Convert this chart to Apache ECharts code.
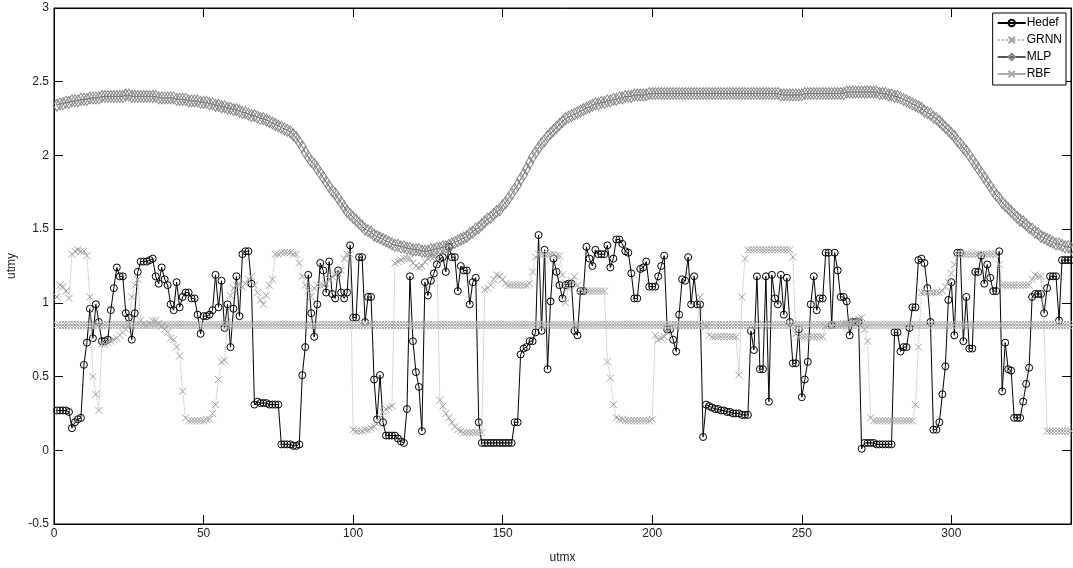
<!DOCTYPE html>
<html>
<head>
<meta charset="utf-8">
<script src="https://cdn.jsdelivr.net/npm/echarts@6/dist/echarts.min.js"></script>
<style>
html,body{margin:0;padding:0;background:#fff;}
#c{width:1073px;height:568px;}
</style>
</head>
<body>
<div id="c"></div>
<script>
// x index runs 1..340
const seriesNames = ['Hedef', 'GRNN', 'MLP', 'RBF'];
const xTicks = [0, 50, 100, 150, 200, 250, 300];
const yTicks = [-0.5, 0, 0.5, 1, 1.5, 2, 2.5, 3];

const hedef = [
0.27,0.27,0.27,0.27,0.26,0.15,0.19,0.21,0.22,0.58,
0.73,0.96,0.76,0.99,0.87,0.74,0.74,0.75,0.95,1.10,
1.24,1.18,1.18,0.93,0.90,0.75,0.93,1.21,1.28,1.28,
1.28,1.29,1.30,1.18,1.13,1.24,1.16,1.12,0.99,0.95,
1.14,0.97,1.04,1.07,1.07,1.03,1.03,0.92,0.79,0.91,
0.91,0.92,0.95,1.19,0.97,1.15,0.83,0.99,0.70,0.96,
1.18,0.91,1.33,1.35,1.35,1.13,0.31,0.33,0.32,0.32,
0.32,0.31,0.31,0.31,0.31,0.04,0.04,0.04,0.04,0.03,
0.03,0.04,0.51,0.70,1.19,0.93,0.77,0.99,1.27,1.22,
1.07,1.28,1.06,1.03,1.22,1.07,1.03,1.07,1.39,0.90,
0.90,1.31,1.31,0.87,1.04,1.04,0.48,0.21,0.51,0.19,
0.10,0.10,0.10,0.10,0.08,0.06,0.05,0.28,1.18,0.74,
0.53,0.43,0.13,1.14,1.05,1.15,1.20,1.26,1.30,1.31,
1.21,1.38,1.31,1.31,1.08,1.25,1.22,1.22,0.99,1.14,
1.17,0.19,0.05,0.05,0.05,0.05,0.05,0.05,0.05,0.05,
0.05,0.05,0.05,0.19,0.19,0.65,0.69,0.70,0.74,0.74,
0.80,1.46,0.81,1.36,0.55,1.01,1.30,1.21,1.12,1.03,
1.12,1.13,1.13,0.81,0.78,1.08,1.08,1.38,1.30,1.25,
1.36,1.33,1.33,1.33,1.39,1.24,1.30,1.43,1.43,1.40,
1.35,1.34,1.20,1.03,1.03,1.23,1.24,1.28,1.11,1.11,
1.11,1.18,1.25,1.32,0.82,0.82,0.75,0.67,0.92,1.16,
1.15,1.31,0.99,1.18,0.99,0.99,0.09,0.31,0.30,0.29,
0.28,0.28,0.27,0.27,0.26,0.26,0.25,0.25,0.25,0.24,
0.24,0.24,0.81,0.68,1.18,0.55,0.55,1.18,0.33,1.19,
1.03,0.99,1.19,0.92,1.17,0.87,0.59,0.59,0.82,0.36,
0.48,0.60,0.99,1.18,0.95,1.03,1.03,1.34,1.34,0.85,
1.34,1.22,1.04,1.04,1.01,0.78,0.87,0.87,0.87,0.01,
0.05,0.05,0.05,0.05,0.04,0.04,0.04,0.04,0.04,0.04,
0.80,0.80,0.67,0.70,0.70,0.83,0.97,0.97,1.29,1.30,
1.27,1.10,0.87,0.14,0.14,0.19,0.38,0.57,1.02,1.14,
0.78,1.34,1.34,0.74,1.04,0.69,0.69,1.21,1.21,1.32,
1.13,1.26,1.17,1.08,1.08,1.35,0.40,0.73,0.55,0.54,
0.22,0.22,0.22,0.33,0.45,0.56,1.04,1.06,1.06,1.06,
0.93,1.10,1.18,1.18,1.18,0.88,1.29,1.29,1.29,1.29
];

const grnn = [
1.04,1.12,1.11,1.08,1.03,1.33,1.35,1.36,1.35,1.35,
1.32,1.04,0.50,0.38,0.27,0.72,0.72,0.73,0.74,0.75,
0.76,0.78,0.80,0.82,0.85,1.04,1.12,1.16,0.88,0.85,
0.85,0.86,0.88,0.88,0.86,0.84,0.82,0.80,0.76,0.75,
0.70,0.64,0.40,0.22,0.20,0.20,0.20,0.20,0.20,0.20,
0.21,0.21,0.25,0.31,0.48,0.60,0.61,0.87,1.05,1.10,
1.12,1.12,1.11,1.13,1.16,1.18,1.12,1.07,1.02,0.99,
1.05,1.12,1.16,1.33,1.33,1.34,1.34,1.34,1.34,1.33,
1.33,1.27,1.18,1.12,1.08,1.04,1.10,1.12,1.12,1.12,
1.13,1.16,1.18,1.19,1.20,1.22,1.30,1.33,1.33,0.14,
0.13,0.13,0.13,0.14,0.14,0.15,0.16,0.18,0.22,0.26,
0.28,0.29,0.30,1.27,1.28,1.29,1.30,1.30,1.30,1.27,
1.25,1.24,1.25,1.28,1.30,1.31,1.31,1.30,0.34,0.30,
0.25,0.22,0.19,0.16,0.14,0.13,0.12,0.12,0.12,0.12,
0.12,0.12,0.12,1.09,1.10,1.12,1.16,1.19,1.18,1.16,
1.13,1.12,1.12,1.12,1.12,1.12,1.12,1.12,1.13,1.21,
1.31,1.33,1.33,1.33,1.33,1.33,1.33,1.32,1.32,1.19,
1.00,1.10,1.15,1.18,1.12,1.09,1.08,1.08,1.08,1.08,
1.08,1.08,1.08,1.08,0.60,0.49,0.31,0.22,0.21,0.21,
0.20,0.20,0.20,0.20,0.20,0.20,0.20,0.20,0.20,0.21,
0.78,0.75,0.76,0.77,0.80,0.85,0.85,0.85,0.85,0.85,
0.85,0.85,0.85,0.85,0.85,1.04,0.85,0.84,0.78,0.77,
0.77,0.77,0.77,0.77,0.77,0.77,0.77,0.77,0.51,1.04,
1.30,1.36,1.36,1.36,1.36,1.36,1.36,1.36,1.36,1.36,
1.36,1.36,1.36,1.36,1.36,1.36,1.31,0.79,0.77,0.77,
0.77,0.77,0.77,0.77,0.77,0.77,0.77,0.84,0.85,0.85,
0.85,0.85,0.85,0.86,0.86,0.86,0.87,0.88,0.89,0.90,
0.82,0.74,0.22,0.20,0.20,0.20,0.20,0.20,0.20,0.20,
0.20,0.20,0.20,0.20,0.20,0.20,0.20,0.31,0.70,1.07,
1.07,1.07,1.07,1.07,1.07,1.07,1.08,1.11,1.14,1.20,
1.26,1.33,1.33,1.33,1.33,1.33,1.33,1.33,1.33,1.33,
1.33,1.33,1.33,1.33,1.33,1.26,1.12,1.12,1.12,1.12,
1.12,1.12,1.12,1.12,1.12,1.12,1.16,1.19,1.18,1.18,
0.85,0.13,0.13,0.13,0.13,0.13,0.13,0.13,0.13,0.13
];

const mlp = [
2.34,2.35,2.35,2.36,2.36,2.37,2.37,2.37,2.38,2.38,
2.38,2.39,2.39,2.39,2.39,2.40,2.40,2.40,2.40,2.40,
2.40,2.40,2.40,2.41,2.41,2.40,2.40,2.40,2.40,2.40,
2.40,2.40,2.40,2.40,2.39,2.39,2.39,2.39,2.39,2.39,
2.38,2.38,2.38,2.38,2.37,2.37,2.37,2.37,2.36,2.36,
2.36,2.35,2.35,2.34,2.34,2.33,2.33,2.32,2.32,2.31,
2.31,2.30,2.29,2.29,2.28,2.27,2.27,2.26,2.25,2.25,
2.24,2.23,2.22,2.21,2.20,2.19,2.18,2.17,2.16,2.14,
2.12,2.09,2.06,2.02,1.99,1.96,1.94,1.91,1.88,1.85,
1.82,1.79,1.76,1.74,1.71,1.68,1.65,1.62,1.60,1.58,
1.56,1.54,1.52,1.50,1.49,1.48,1.46,1.45,1.44,1.43,
1.42,1.41,1.40,1.39,1.39,1.38,1.38,1.37,1.37,1.36,
1.36,1.36,1.35,1.35,1.35,1.36,1.36,1.37,1.37,1.38,
1.38,1.39,1.40,1.41,1.42,1.43,1.44,1.45,1.47,1.48,
1.50,1.51,1.53,1.55,1.57,1.58,1.60,1.62,1.63,1.66,
1.68,1.71,1.74,1.77,1.80,1.84,1.87,1.91,1.95,1.99,
2.02,2.05,2.08,2.10,2.13,2.15,2.17,2.19,2.21,2.23,
2.25,2.26,2.27,2.28,2.29,2.30,2.31,2.32,2.33,2.34,
2.35,2.35,2.36,2.36,2.37,2.37,2.38,2.38,2.39,2.39,
2.40,2.40,2.40,2.41,2.41,2.41,2.41,2.41,2.42,2.42,
2.42,2.42,2.42,2.42,2.42,2.42,2.42,2.42,2.42,2.42,
2.42,2.42,2.42,2.42,2.42,2.42,2.42,2.42,2.42,2.42,
2.42,2.42,2.42,2.42,2.42,2.42,2.42,2.42,2.42,2.42,
2.42,2.42,2.42,2.42,2.42,2.42,2.42,2.42,2.42,2.42,
2.42,2.42,2.41,2.41,2.41,2.41,2.41,2.41,2.41,2.41,
2.42,2.42,2.42,2.42,2.42,2.42,2.42,2.42,2.42,2.42,
2.42,2.42,2.42,2.42,2.43,2.43,2.43,2.43,2.43,2.43,
2.43,2.43,2.43,2.43,2.43,2.42,2.42,2.42,2.41,2.41,
2.40,2.40,2.39,2.38,2.37,2.36,2.35,2.34,2.33,2.32,
2.30,2.29,2.28,2.26,2.25,2.23,2.21,2.19,2.17,2.15,
2.13,2.10,2.08,2.05,2.03,2.00,1.97,1.94,1.91,1.88,
1.85,1.82,1.79,1.76,1.73,1.71,1.68,1.66,1.64,1.62,
1.60,1.58,1.56,1.55,1.53,1.51,1.50,1.48,1.47,1.45,
1.44,1.43,1.42,1.41,1.40,1.40,1.39,1.38,1.38,1.37
];

const rbf = [
0.85,0.85,0.85,0.85,0.85,0.85,0.85,0.85,0.85,0.85,
0.85,0.85,0.85,0.85,0.85,0.85,0.85,0.85,0.85,0.85,
0.85,0.85,0.85,0.85,0.85,0.85,0.85,0.85,0.85,0.85,
0.85,0.85,0.85,0.85,0.85,0.85,0.85,0.85,0.85,0.85,
0.85,0.85,0.85,0.85,0.85,0.85,0.85,0.85,0.85,0.85,
0.85,0.85,0.85,0.85,0.85,0.85,0.85,0.85,0.85,0.85,
0.85,0.85,0.85,0.85,0.85,0.85,0.85,0.85,0.85,0.85,
0.85,0.85,0.85,0.85,0.85,0.85,0.85,0.85,0.85,0.85,
0.85,0.85,0.85,0.85,0.85,0.85,0.85,0.85,0.85,0.85,
0.85,0.85,0.85,0.85,0.85,0.85,0.85,0.85,0.85,0.85,
0.85,0.85,0.85,0.85,0.85,0.85,0.85,0.85,0.85,0.85,
0.85,0.85,0.85,0.85,0.85,0.85,0.85,0.85,0.85,0.85,
0.85,0.85,0.85,0.85,0.85,0.85,0.85,0.85,0.85,0.85,
0.85,0.85,0.85,0.85,0.85,0.85,0.85,0.85,0.85,0.85,
0.85,0.85,0.85,0.85,0.85,0.85,0.85,0.85,0.85,0.85,
0.85,0.85,0.85,0.85,0.85,0.85,0.85,0.85,0.85,0.85,
0.85,0.85,0.85,0.85,0.85,0.85,0.85,0.85,0.85,0.85,
0.85,0.85,0.85,0.85,0.85,0.85,0.85,0.85,0.85,0.85,
0.85,0.85,0.85,0.85,0.85,0.85,0.85,0.85,0.85,0.85,
0.85,0.85,0.85,0.85,0.85,0.85,0.85,0.85,0.85,0.85,
0.85,0.85,0.85,0.85,0.85,0.85,0.85,0.85,0.85,0.85,
0.85,0.85,0.85,0.85,0.85,0.85,0.85,0.85,0.85,0.85,
0.85,0.85,0.85,0.85,0.85,0.85,0.85,0.85,0.85,0.85,
0.85,0.85,0.85,0.85,0.85,0.85,0.85,0.85,0.85,0.85,
0.85,0.85,0.85,0.85,0.85,0.85,0.85,0.85,0.85,0.85,
0.85,0.85,0.85,0.85,0.85,0.85,0.85,0.85,0.85,0.85,
0.85,0.85,0.85,0.85,0.85,0.85,0.85,0.85,0.85,0.85,
0.85,0.85,0.85,0.85,0.85,0.85,0.85,0.85,0.85,0.85,
0.85,0.85,0.85,0.85,0.85,0.85,0.85,0.85,0.85,0.85,
0.85,0.85,0.85,0.85,0.85,0.85,0.85,0.85,0.85,0.85,
0.85,0.85,0.85,0.85,0.85,0.85,0.85,0.85,0.85,0.85,
0.85,0.85,0.85,0.85,0.85,0.85,0.85,0.85,0.85,0.85,
0.85,0.85,0.85,0.85,0.85,0.85,0.85,0.85,0.85,0.85,
0.85,0.85,0.85,0.85,0.85,0.85,0.85,0.85,0.85,0.85
];

const FONT = '"Liberation Sans", Arial, sans-serif';
const CROSS = 'path://M0,0L10,10M10,0L0,10';
const toXY = arr => arr.map((v, i) => [i + 1, v]);

const chart = echarts.init(document.getElementById('c'), null, {renderer: 'canvas'});

const axisCommon = {
  axisLine: {show: true, onZero: false, lineStyle: {color: '#000', width: 1}},
  axisTick: {show: true, inside: true, length: 9, lineStyle: {color: '#000'}},
  splitLine: {show: false}
};

chart.setOption({
  animation: false,
  backgroundColor: '#fff',
  textStyle: {fontFamily: FONT},
  grid: {left: 54, right: 2, top: 8, bottom: 44, show: true, borderColor: '#000', borderWidth: 1,
    backgroundColor: '#fff', outerBoundsMode: 'none', containLabel: false},
  legend: {
    data: seriesNames,
    orient: 'vertical',
    right: 7,
    top: 13,
    itemWidth: 28,
    itemHeight: 8,
    itemGap: 5,
    padding: [4, 4, 5, 4],
    backgroundColor: '#fff',
    borderColor: '#000',
    borderWidth: 1,
    borderRadius: 0,
    textStyle: {fontFamily: FONT, fontSize: 12, color: '#000', padding: [0, 0, 0, -4]}
  },
  xAxis: [
    Object.assign({
      type: 'value', min: 0, max: 340, interval: 50, position: 'bottom',
      name: 'utmx', nameLocation: 'middle', nameGap: 28,
      nameTextStyle: {fontFamily: FONT, fontSize: 12, color: '#222'},
      axisLabel: {fontFamily: FONT, fontSize: 12, color: '#222', margin: 4, showMaxLabel: false,
        formatter: v => (xTicks.indexOf(v) >= 0 ? String(v) : '')}
    }, axisCommon),
    Object.assign({
      type: 'value', min: 0, max: 340, interval: 50, position: 'top',
      axisLabel: {show: false}
    }, axisCommon)
  ],
  yAxis: [
    Object.assign({
      type: 'value', min: -0.5, max: 3, interval: 0.5, position: 'left',
      name: 'utmy', nameLocation: 'middle', nameGap: 36,
      nameTextStyle: {fontFamily: FONT, fontSize: 12, color: '#222'},
      axisLabel: {fontFamily: FONT, fontSize: 12, color: '#222', margin: 5,
        formatter: v => (yTicks.indexOf(v) >= 0 ? String(v) : '')}
    }, axisCommon),
    Object.assign({
      type: 'value', min: -0.5, max: 3, interval: 0.5, position: 'right',
      axisLabel: {show: false}
    }, axisCommon)
  ],
  series: [
    {
      name: 'Hedef', type: 'line', data: toXY(hedef), z: 2,
      symbol: 'circle', symbolSize: 7, showAllSymbol: true,
      lineStyle: {color: '#000', width: 1},
      itemStyle: {color: 'rgba(255,255,255,0)', borderColor: '#000', borderWidth: 1}
    },
    {
      name: 'GRNN', type: 'line', data: toXY(grnn), z: 3,
      symbol: CROSS, symbolSize: 7, showAllSymbol: true,
      lineStyle: {color: '#b4b4b4', width: 1, type: 'dotted'},
      itemStyle: {color: 'rgba(255,255,255,0)', borderColor: '#a2a2a2', borderWidth: 1}
    },
    {
      name: 'MLP', type: 'line', data: toXY(mlp), z: 4,
      symbol: 'diamond', symbolSize: [8, 12], showAllSymbol: true,
      lineStyle: {color: '#555', width: 1},
      itemStyle: {color: 'rgba(255,255,255,0)', borderColor: '#858585', borderWidth: 1}
    },
    {
      name: 'RBF', type: 'line', data: toXY(rbf), z: 5,
      symbol: CROSS, symbolSize: 8, showAllSymbol: true,
      lineStyle: {color: '#aaaaaa', width: 1},
      itemStyle: {color: 'rgba(255,255,255,0)', borderColor: '#a8a8a8', borderWidth: 1}
    }
  ]
});
</script>
</body>
</html>
